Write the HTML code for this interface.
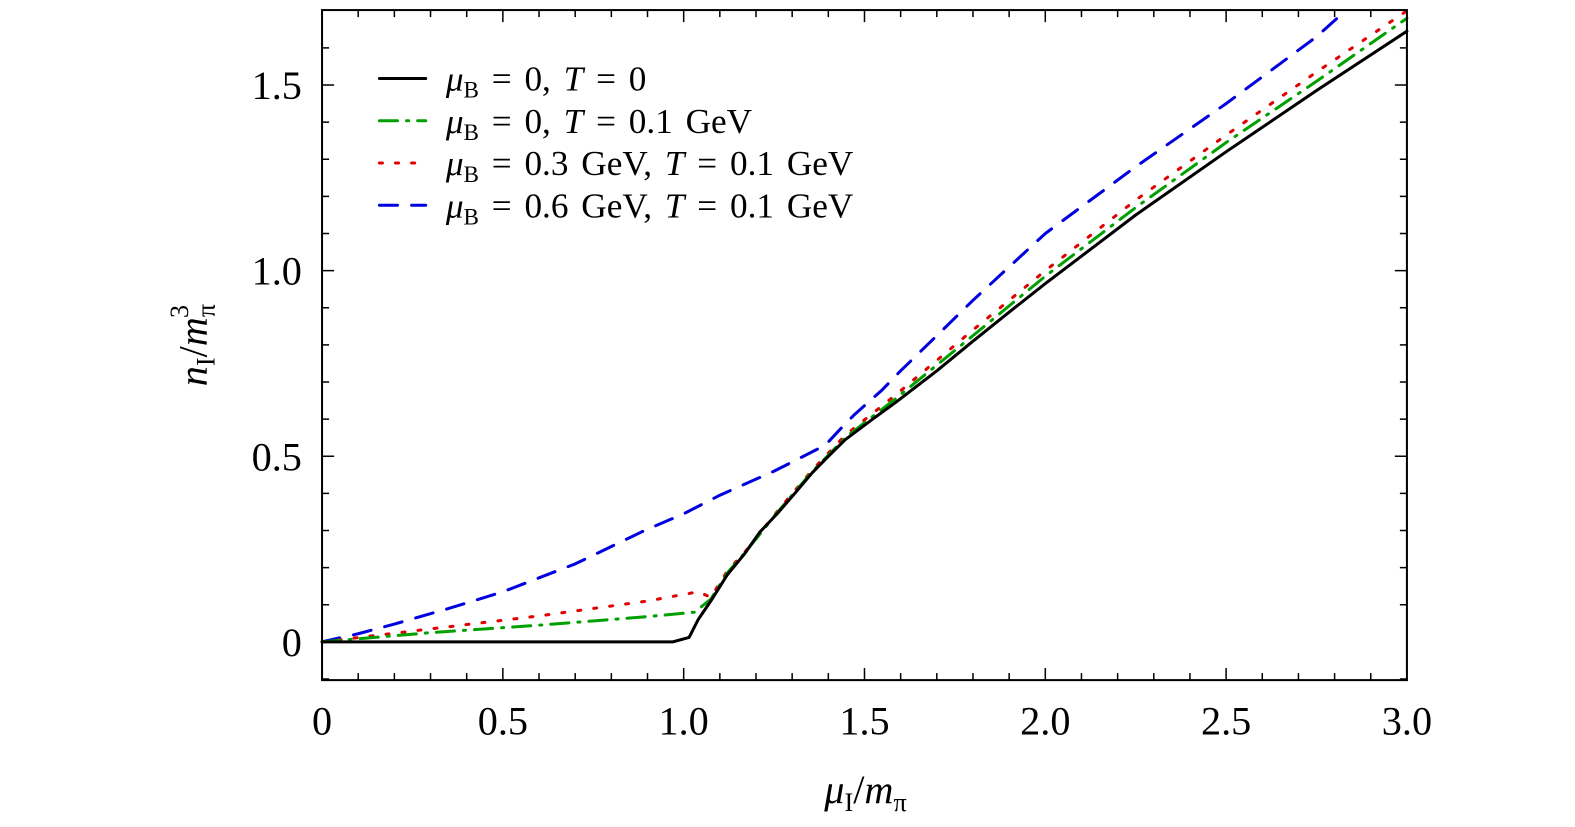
<!DOCTYPE html>
<html><head><meta charset="utf-8"><style>
html,body{margin:0;padding:0;background:#fff;overflow:hidden;}
svg{display:block;}
svg text{font-family:"Liberation Serif",serif;fill:#000;}
</style></head><body>
<svg id="chart" width="1575" height="827" viewBox="0 0 1565 822" preserveAspectRatio="none" xmlns="http://www.w3.org/2000/svg">
<g id="ticks"></g>
<g id="series"></g>
<rect x="320" y="10" width="1078" height="666" fill="none" stroke="#000" stroke-width="2"/>
<text x="860" y="798" font-size="40" text-anchor="middle"><tspan font-style="italic">μ</tspan><tspan font-size="26" dy="8">I</tspan><tspan dy="-8">/</tspan><tspan font-style="italic">m</tspan><tspan font-size="26" dy="8">π</tspan></text>
<text transform="translate(205,343) rotate(-90)" font-size="40" text-anchor="middle"><tspan font-style="italic">n</tspan><tspan font-size="26" dy="8">I</tspan><tspan dy="-8">/</tspan><tspan font-style="italic">m</tspan><tspan font-size="26" dy="8">π</tspan><tspan font-size="26" dx="-14" dy="-26">3</tspan></text>
<g id="legend"></g>
</svg>
<script>
const xTicks=[0,0.5,1.0,1.5,2.0,2.5,3.0];
const xTickLabels=["0","0.5","1.0","1.5","2.0","2.5","3.0"];
const yTicks=[0,0.5,1.0,1.5];
const yTickLabels=["0","0.5","1.0","1.5"];
const xBlack=[0,0.97,1.015,1.04,1.075,1.12,1.169,1.21,1.26,1.31,1.355,1.4,1.447,1.52,1.586,1.7,1.8,1.9,2.0,2.25,2.5,2.75,3.0];
const yBlack=[0,0,0.012,0.06,0.11,0.18,0.238,0.295,0.347,0.403,0.455,0.5,0.545,0.598,0.645,0.73,0.81,0.888,0.965,1.15,1.32,1.485,1.645];
const xGreen=[0,0.3,0.6,0.9,1.03,1.075,1.12,1.169,1.26,1.355,1.447,1.586,1.8,2.0,2.25,2.5,2.75,3.0];
const yGreen=[0,0.025,0.045,0.068,0.08,0.115,0.185,0.24,0.35,0.458,0.55,0.655,0.825,0.985,1.17,1.345,1.51,1.68];
const xRed=[0,0.3,0.6,0.9,1.04,1.075,1.12,1.169,1.26,1.355,1.447,1.586,1.8,2.0,2.25,2.5,2.75,3.0];
const yRed=[0,0.035,0.07,0.11,0.135,0.12,0.19,0.242,0.353,0.462,0.557,0.665,0.84,1.0,1.19,1.365,1.535,1.7];
const xBlue=[0,0.1,0.2,0.35,0.5,0.7,0.892,1.0,1.1,1.25,1.392,1.43,1.47,1.55,1.6,1.7,1.8,1.9,2.0,2.25,2.5,2.75,2.83];
const yBlue=[0,0.022,0.048,0.09,0.135,0.21,0.30,0.345,0.395,0.46,0.53,0.57,0.61,0.68,0.73,0.825,0.92,1.01,1.1,1.28,1.45,1.63,1.70];
const NS="http://www.w3.org/2000/svg";
const X0=320,X1=1398,YZ=638,YS=369;
function sx(v){return X0+(X1-X0)*v/3;}
function sy(v){return YZ-YS*v;}
function mk(tag,attrs,parent){const e=document.createElementNS(NS,tag);for(const k in attrs)e.setAttribute(k,attrs[k]);parent.appendChild(e);return e;}
const tg=document.getElementById('ticks');
for(let i=1;i<30;i++){const x=sx(i/10),L=(i%5==0)?12:7;
 const t1=mk('line',{x1:x,x2:x,y1:676,y2:676-L,stroke:'#000','stroke-width':1.5},tg);
 
 
 const t2=mk('line',{x1:x,x2:x,y1:10,y2:10+L,stroke:'#000','stroke-width':1.5},tg);
 
 }
for(let i=-1;i<=16;i++){if(i==0)continue;const y=sy(i/10),L=(i%5==0)?12:7;
 const t1=mk('line',{x1:320,x2:320+L,y1:y,y2:y,stroke:'#000','stroke-width':1.5},tg);
 
 
 const t2=mk('line',{x1:1398,x2:1398-L,y1:y,y2:y,stroke:'#000','stroke-width':1.5},tg);
 
 }
xTicks.forEach((v,i)=>{const t=mk('text',{x:sx(v),y:730,'font-size':40,'text-anchor':'middle'},tg);t.textContent=xTickLabels[i];
 
 });
yTicks.forEach((v,i)=>{const t=mk('text',{x:300,y:sy(v)+14,'font-size':40,'text-anchor':'end'},tg);t.textContent=yTickLabels[i];
 
 });
const sg=document.getElementById('series');
function line(xs,ys,color,dash,name){
 const d=xs.map((x,i)=>(i?'L':'M')+sx(x).toFixed(1)+','+sy(ys[i]).toFixed(1)).join('');
 const p=mk('path',{d:d,fill:'none',stroke:color,'stroke-width':3,'stroke-dasharray':dash,'stroke-linecap':'round','stroke-linejoin':'round'},sg);
 
 }
line(xBlue,yBlue,'#0000e0','18 14','series-muB-0.6');
line(xRed,yRed,'#e00000','3 13','series-muB-0.3');
line(xGreen,yGreen,'#00a000','18 9 2 9','series-muB-0-T-0.1');
line(xBlack,yBlack,'#000','','series-muB-0-T-0');
const lg=document.getElementById('legend');
const colors=['#000','#00a000','#e00000','#0000e0'];
const dashes=['','18 9 2 9','3 13','18 14'];
const rest=[' = 0, | = 0',' = 0, | = 0.1 GeV',' = 0.3 GeV, | = 0.1 GeV',' = 0.6 GeV, | = 0.1 GeV'];
rest.forEach((r,i)=>{const y=78+42*i;
 const l=mk('line',{x1:377,x2:423,y1:y,y2:y,stroke:colors[i],'stroke-width':3,'stroke-dasharray':dashes[i],'stroke-linecap':'round'},lg);
 
 
 const parts=r.split('|');
 const t=mk('text',{x:443,y:y+12,'font-size':35,'word-spacing':'4'},lg);
 t.innerHTML='<tspan font-style="italic">μ</tspan><tspan font-size="23" dy="7">B</tspan><tspan dy="-7">'+parts[0]+'</tspan><tspan font-style="italic">T</tspan><tspan>'+parts[1]+'</tspan>';
 
 });
</script>
</body></html>
